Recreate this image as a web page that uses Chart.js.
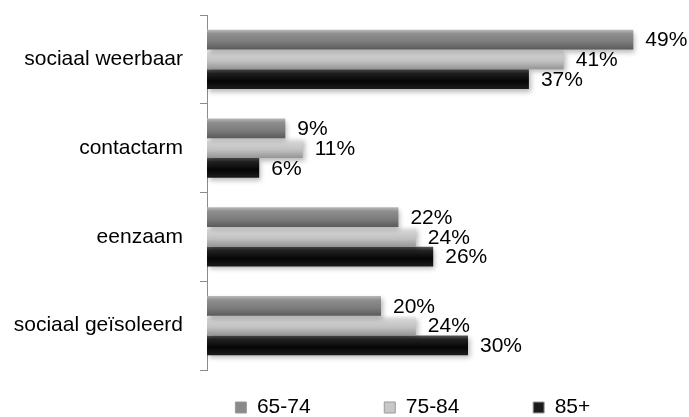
<!DOCTYPE html>
<html>
<head>
<meta charset="utf-8">
<script src="https://cdn.jsdelivr.net/npm/chart.js@4/dist/chart.umd.min.js"></script>
<style>
  html, body { margin: 0; padding: 0; background: #fff; }
  #wrap { width: 689px; height: 417px; }
</style>
</head>
<body>
<div id="wrap"><canvas id="chart" width="689" height="417"></canvas></div>
<script>
const categories = ["sociaal weerbaar", "contactarm", "eenzaam", "sociaal geïsoleerd"];
const seriesNames = ["65-74", "75-84", "85+"];
const age6574 = [49, 9, 22, 20];
const age7584 = [41, 11, 24, 24];
const age85 = [37, 6, 26, 30];

const FONT = "'Liberation Sans', Arial, sans-serif";
const CAT_PCT = 0.665;

// vertical gradient stops per series: light top edge, dark bottom
const shades = [
  ["#b8b8b8", "#8e8e8e", "#7c7c7c", "#5a5a5a"],
  ["#f4f4f4", "#d4d4d4", "#c0c0c0", "#959595"],
  ["#5a5a5a", "#222222", "#050505", "#1c1c1c"]
];
const flat = ["#7c7c7c", "#c0c0c0", "#111111"];

function barFill(c) {
  const chart = c.chart;
  const y = chart.scales.y;
  if (!chart.chartArea || !y || c.dataIndex === undefined) return flat[c.datasetIndex];
  const center = y.getPixelForValue(c.dataIndex);
  const band = (y.bottom - y.top) / categories.length * CAT_PCT;
  const h = band / seriesNames.length;
  const top = center - band / 2 + h * c.datasetIndex;
  const s = shades[c.datasetIndex];
  const g = chart.ctx.createLinearGradient(0, top, 0, top + h);
  g.addColorStop(0, s[0]);
  g.addColorStop(0.2, s[1]);
  g.addColorStop(0.6, s[2]);
  g.addColorStop(1, s[3]);
  return g;
}

const barShadow = {
  id: 'barShadow',
  beforeDatasetDraw(chart) {
    const ctx = chart.ctx;
    ctx.save();
    ctx.shadowColor = "rgba(0,0,0,0.28)";
    ctx.shadowBlur = 5;
    ctx.shadowOffsetX = 2;
    ctx.shadowOffsetY = 3;
  },
  afterDatasetDraw(chart) {
    chart.ctx.restore();
  }
};

const valueLabels = {
  id: 'valueLabels',
  afterDatasetsDraw(chart) {
    const ctx = chart.ctx;
    ctx.save();
    ctx.font = "21px " + FONT;
    ctx.fillStyle = "#000";
    ctx.textAlign = "left";
    ctx.textBaseline = "middle";
    chart.data.datasets.forEach((ds, i) => {
      chart.getDatasetMeta(i).data.forEach((el, j) => {
        ctx.fillText(ds.data[j] + "%", el.x + 12, el.y + 1);
      });
    });
    ctx.restore();
  }
};

const data = {
  labels: categories,
  datasets: [
    { label: seriesNames[0], data: age6574, backgroundColor: barFill },
    { label: seriesNames[1], data: age7584, backgroundColor: barFill },
    { label: seriesNames[2], data: age85, backgroundColor: barFill }
  ]
};

const legendFills = ["#8a8a8a", "#c8c8c8", "#1a1a1a"];
const legendPad = ["        ", "        ", "    "];

new Chart(document.getElementById('chart'), {
  type: 'bar',
  data: data,
  plugins: [barShadow, valueLabels],
  options: {
    indexAxis: 'y',
    responsive: false,
    animation: false,
    datasets: {
      bar: { categoryPercentage: CAT_PCT, barPercentage: 1, borderWidth: 0 }
    },
    layout: { padding: { top: 15, right: 47, left: 0, bottom: -11 } },
    scales: {
      x: { display: false, min: 0, max: 50 },
      y: {
        afterFit: (scale) => {
          scale.width = 207;
          scale.paddingTop = 0;
          scale.paddingBottom = 0;
        },
        border: { display: true, color: "#8c8c8c", width: 1 },
        grid: { drawOnChartArea: false, drawTicks: true, tickLength: 7, color: "#8c8c8c", offset: true },
        ticks: { color: "#000", font: { family: FONT, size: 21 }, padding: 17 }
      }
    },
    plugins: {
      tooltip: { enabled: false },
      legend: {
        position: 'bottom',
        fullSize: false,
        labels: {
          color: "#000",
          font: { family: FONT, size: 21 },
          boxWidth: 11,
          boxHeight: 11,
          padding: 27,
          generateLabels: (chart) => chart.data.datasets.map((ds, i) => ({
            text: ds.label + legendPad[i],
            fillStyle: legendFills[i],
            strokeStyle: "#9a9a9a",
            lineWidth: 1,
            datasetIndex: i
          }))
        }
      }
    }
  }
});
</script>
</body>
</html>
